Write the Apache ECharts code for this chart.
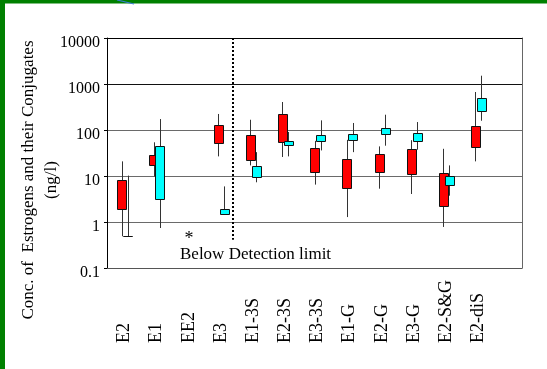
<!DOCTYPE html>
<html>
<head>
<meta charset="utf-8">
<script src="https://cdn.jsdelivr.net/npm/echarts@6/dist/echarts.min.js"></script>
<style>
html,body{margin:0;padding:0;background:#fff;}
#chart{width:547px;height:369px;}
</style>
</head>
<body>
<div id="chart"></div>
<script>
// ---- data ----
const categories = ['E2','E1','EE2','E3','E1-3S','E2-3S','E3-3S','E1-G','E2-G','E3-G','E2-S&G','E2-diS'];
// each entry: [whisker low, box low, box high, whisker high]  (ng/l)
const redValues = [
  [0.49, 1.92, 8.3, 20.8],
  [9.8, 17, 28, 54],
  null,
  [26.7, 53, 128, 223],
  [17, 22.6, 76, 167],
  [25.9, 53.8, 226, 406],
  [6.5, 12.2, 40.6, 58],
  [1.28, 5.4, 23.8, 61],
  [5.3, 12.2, 30.5, 44],
  [4.06, 11.1, 39.2, 60],
  [0.78, 2.26, 11.6, 39],
  [20.8, 42, 122, 670]
];
const cyanValues = [
  [0.49, 0.49, 0.49, 10.2],
  [0.74, 3.16, 45.6, 173],
  null,
  [1.44, 1.49, 1.95, 5.94],
  [7.3, 9.5, 16.7, 33],
  [26.7, 46.3, 56.5, 90.5],
  [36, 58.5, 76.3, 162],
  [33, 61.5, 80, 142],
  [45.6, 82, 110, 215],
  [37.3, 57.6, 87.4, 149],
  [3.73, 6.5, 9.8, 17],
  [159, 254, 504, 1514]
];
const yTicks = [0.1, 1, 10, 100, 1000, 10000];
const belowDetectionCategory = 'EE2';
const belowDetectionValue = 0.5;
const dividerAfter = 'E3';
const dividerRange = [0.41, 10000];

function toItems(arr){
  const out = [];
  arr.forEach((v,i)=>{ if(v) out.push([i].concat(v)); });
  return out;
}

function boxRenderer(offset, color){
  return function(params, api){
    const i = api.value(0);
    const band = api.size([1, 1])[0];
    const w = band * 0.27;
    const cx = api.coord([i, api.value(1)])[0] + band * offset;
    const yLo = api.coord([i, api.value(1)])[1];
    const yB0 = api.coord([i, api.value(2)])[1];
    const yB1 = api.coord([i, api.value(3)])[1];
    const yHi = api.coord([i, api.value(4)])[1];
    const x = Math.round(cx - w/2) + 0.5;
    return {
      type: 'group',
      children: [
        {type:'line', shape:{x1:Math.round(cx)+0.5, y1:yHi, x2:Math.round(cx)+0.5, y2:yLo},
         style:{stroke:'#333', lineWidth:1}},
        {type:'rect', shape:{x:x, y:Math.round(yB1)+0.5, width:Math.round(w), height:Math.max(0, Math.round(yB0)-Math.round(yB1))},
         style:{fill:color, stroke:'#111', lineWidth:1}}
      ]
    };
  };
}

const serif = 'Liberation Serif, Times New Roman, serif';
const chart = echarts.init(document.getElementById('chart'), null, {renderer:'canvas'});
const option = {
  backgroundColor: '#fff',
  animation: false,
  grid: [
    {left:107, right:25, top:38, bottom:101},
    {left:108.5, right:52.5, top:38, bottom:101}
  ],
  xAxis: [
    {gridIndex:0, type:'value', min:0, max:1, position:'bottom',
     axisLine:{show:true, onZero:false, lineStyle:{color:'#555', width:1}},
     axisTick:{show:false}, axisLabel:{show:false}, splitLine:{show:false}},
    {gridIndex:0, type:'value', min:0, max:1, position:'top',
     axisLine:{show:true, onZero:false, lineStyle:{color:'#000', width:1}},
     axisTick:{show:false}, axisLabel:{show:false}, splitLine:{show:false}},
    {gridIndex:1, type:'category', data:categories, position:'bottom',
     axisLine:{show:false}, axisTick:{show:false}, splitLine:{show:false},
     axisLabel:{rotate:90, align:'left', verticalAlign:'middle', margin:75, interval:0,
       color:'#000', fontFamily:serif, fontSize:18}}
  ],
  yAxis: [
    {gridIndex:0, type:'log', logBase:10, min:0.1, max:10000, position:'left',
     axisLine:{show:true, onZero:false, lineStyle:{color:'#000', width:1}},
     axisTick:{show:true, inside:false, length:3, lineStyle:{color:'#000'}},
     axisLabel:{color:'#000', fontFamily:serif, fontSize:16, margin:7,
       formatter:function(v){
         let best = yTicks[0];
         yTicks.forEach(t=>{ if(Math.abs(Math.log10(t)-Math.log10(v)) < Math.abs(Math.log10(best)-Math.log10(v))) best = t; });
         return '{s|' + String(best) + '}';
       },
       rich:{s:{color:'#000', fontFamily:serif, fontSize:16, padding:[9,0,0,0]}}},
     splitLine:{show:true, lineStyle:{color:['#555','#6a6a6a','#6a6a6a','#6a6a6a','#111','#111'], width:1}}},
    {gridIndex:0, type:'log', logBase:10, min:0.1, max:10000, position:'right',
     axisLine:{show:true, onZero:false, lineStyle:{color:'#666', width:1}},
     axisTick:{show:false}, axisLabel:{show:false}, splitLine:{show:false}},
    {gridIndex:1, type:'log', logBase:10, min:0.1, max:10000, show:false}
  ],
  series: [
    {type:'custom', name:'red', xAxisIndex:2, yAxisIndex:2, data:toItems(redValues),
     renderItem: boxRenderer(-0.093, '#ff0000'), clip:false},
    {type:'custom', name:'cyan', xAxisIndex:2, yAxisIndex:2, data:toItems(cyanValues),
     renderItem: boxRenderer(0.093, '#00ffff'), clip:false},
    {type:'custom', name:'divider', xAxisIndex:2, yAxisIndex:2,
     data:[[categories.indexOf(dividerAfter), dividerRange[0], dividerRange[1]]],
     renderItem: function(params, api){
       const band = api.size([1,1])[0];
       const p0 = api.coord([api.value(0), api.value(1)]);
       const p1 = api.coord([api.value(0), api.value(2)]);
       const x = Math.round(p0[0] + band*0.38);
       return {type:'line', shape:{x1:x, y1:p1[1], x2:x, y2:p0[1]},
         style:{stroke:'#000', lineWidth:2, lineDash:[2,2]}};
     }},
    {type:'custom', name:'below', xAxisIndex:2, yAxisIndex:2,
     data:[[categories.indexOf(belowDetectionCategory), belowDetectionValue]],
     renderItem: function(params, api){
       const p = api.coord([api.value(0), api.value(1)]);
       return {type:'text', x:p[0], y:p[1]+3,
         style:{text:'*', fill:'#000', font:'18px ' + serif, textAlign:'center', textVerticalAlign:'middle'}};
     }}
  ],
  graphic: [
    {type:'rect', shape:{x:0, y:0, width:5, height:369}, style:{fill:'#008000'}, silent:true},
    {type:'rect', shape:{x:0, y:0, width:547, height:3.5}, style:{fill:'#008000'}, silent:true},
    {type:'line', shape:{x1:117, y1:0, x2:134, y2:4}, style:{stroke:'#3a7bd5', lineWidth:1.2}, silent:true},
    {type:'text', x:180, y:255, style:{text:'Below Detection limit', fill:'#000', font:'17px ' + serif, textAlign:'left', textVerticalAlign:'middle'}},
    {type:'text', x:29, y:180, rotation:Math.PI/2,
     style:{text:'Conc. of  Estrogens and their Conjugates', fill:'#000', font:'17px ' + serif, textAlign:'center', textVerticalAlign:'middle'}},
    {type:'text', x:52, y:180, rotation:Math.PI/2,
     style:{text:'(ng/l)', fill:'#000', font:'17px ' + serif, textAlign:'center', textVerticalAlign:'middle'}}
  ]
};
chart.setOption(option);
</script>
</body>
</html>
